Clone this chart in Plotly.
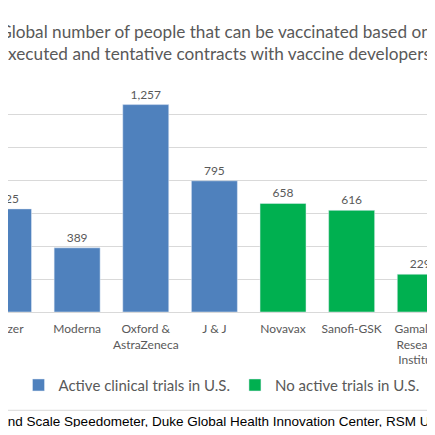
import plotly.graph_objects as go

# Vaccine developers split by whether they run active clinical trials in the U.S.
active_names = ["Pfizer", "Moderna", "Oxford &<br>AstraZeneca", "J & J"]
active_values = [625, 389, 1257, 795]

inactive_names = ["Novavax", "Sanofi-GSK", "Gamaleya<br>Research<br>Institute"]
inactive_values = [658, 616, 229]

category_order = active_names + inactive_names

grey_text = "#595959"
font_family = "Lato, 'Open Sans', sans-serif"

# page body adds an 8px margin; keep the page from growing taller than the window
W = 427
H = 419

fig = go.Figure()

fig.add_trace(go.Bar(
    name="Active clinical trials in U.S.",
    x=active_names,
    y=active_values,
    marker=dict(color="#4F81BD"),
    texttemplate="%{y:,}",
    textposition="outside",
    textfont=dict(size=12, color=grey_text, family=font_family),
    cliponaxis=False,
))

fig.add_trace(go.Bar(
    name="No active trials in U.S.",
    x=inactive_names,
    y=inactive_values,
    marker=dict(color="#00B050"),
    texttemplate="%{y:,}",
    textposition="outside",
    textfont=dict(size=12, color=grey_text, family=font_family),
    cliponaxis=False,
))

fig.update_layout(
    width=W,
    height=H,
    barmode="overlay",
    bargap=0.33,
    margin=dict(l=0, r=0, t=72.7, b=H - 303.7, autoexpand=False),
    paper_bgcolor="white",
    plot_bgcolor="white",
    font=dict(family=font_family, size=12, color=grey_text),
    title=dict(
        text="Global number of people that can be vaccinated based on<br>"
             "executed and tentative contracts with vaccine developers",
        x=207 / W,
        xanchor="center",
        y=1 - 30 / H,
        yanchor="top",
        font=dict(size=17.2, color=grey_text, family=font_family),
    ),
    legend=dict(
        orientation="h",
        x=0.5,
        xanchor="center",
        y=-0.317,
        yanchor="middle",
        font=dict(size=15, color=grey_text, family=font_family),
    ),
    showlegend=True,
)

fig.update_xaxes(
    type="category",
    categoryorder="array",
    categoryarray=category_order,
    range=[-0.0073, 6.2145],
    showgrid=False,
    showline=False,
    ticks="",
    ticklabelstandoff=8,
    tickfont=dict(size=12, color=grey_text, family=font_family),
    automargin=False,
)

fig.update_yaxes(
    range=[0, 1400],
    dtick=200,
    showticklabels=False,
    showgrid=True,
    gridcolor="#D9D9D9",
    gridwidth=1,
    zeroline=True,
    zerolinecolor="#D9D9D9",
    zerolinewidth=1,
    automargin=False,
)

# thin rule above the source line
fig.add_shape(type="line", xref="paper", yref="paper", x0=0, x1=1,
              y0=-0.4255, y1=-0.4255, line=dict(color="#D9D9D9", width=1))

fig.add_annotation(
    text="Source: Launch and Scale Speedometer, Duke Global Health Innovation Center, RSM US",
    xref="paper", yref="paper",
    x=1.0129, y=-0.473,
    xanchor="right", yanchor="middle",
    showarrow=False,
    font=dict(family="Liberation Sans, Arial, sans-serif", size=13.5, color="black"),
)

fig.write_html("out.html")
